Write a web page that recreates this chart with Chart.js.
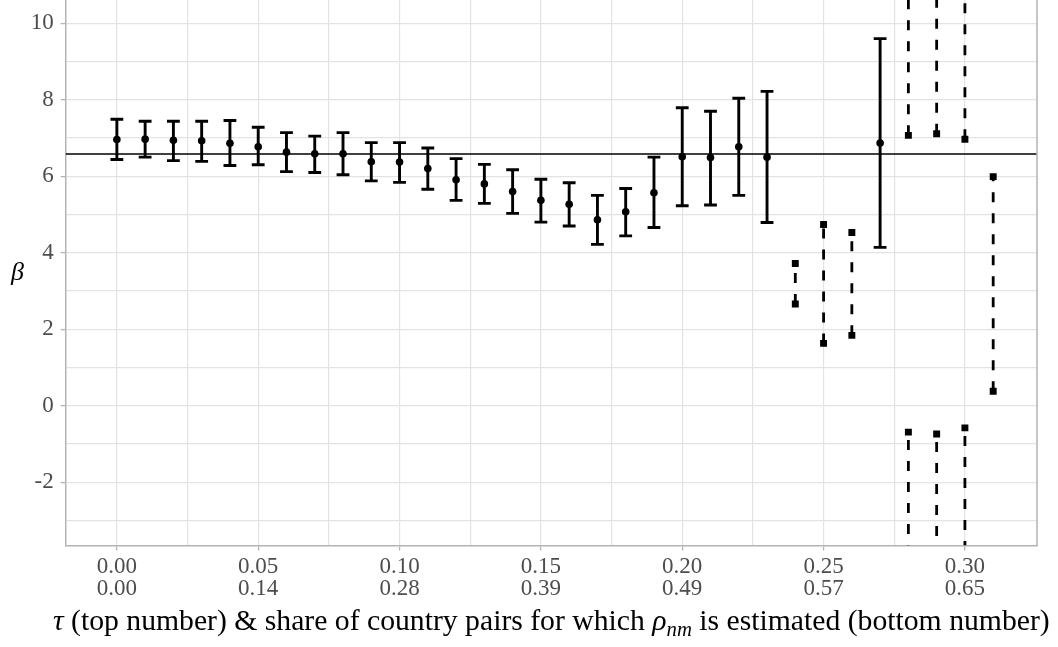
<!DOCTYPE html>
<html><head><meta charset="utf-8">
<script src="https://cdn.jsdelivr.net/npm/chart.js@4.4.1/dist/chart.umd.min.js"></script>
<style>html,body{margin:0;padding:0;background:#fff}canvas{display:block}</style>
</head><body>
<canvas id="c" width="1058" height="647"></canvas>
<script>
// ---- data ----
// solid error bars (estimate with confidence interval)
const solidTau = [0.00,0.01,0.02,0.03,0.04,0.05,0.06,0.07,0.08,0.09,0.10,0.11,0.12,0.13,0.14,0.15,0.16,0.17,0.18,0.19,0.20,0.21,0.22,0.23,0.27];
const solidEst = [6.96,6.97,6.94,6.93,6.86,6.77,6.63,6.59,6.59,6.38,6.37,6.20,5.91,5.80,5.60,5.37,5.27,4.86,5.07,5.57,6.51,6.49,6.77,6.50,6.87];
const solidLo  = [6.44,6.50,6.41,6.39,6.28,6.30,6.12,6.10,6.04,5.88,5.84,5.66,5.37,5.29,5.03,4.80,4.70,4.22,4.44,4.66,5.23,5.25,5.50,4.79,4.14];
const solidHi  = [7.49,7.44,7.44,7.44,7.46,7.28,7.14,7.05,7.14,6.88,6.88,6.74,6.46,6.31,6.17,5.92,5.83,5.50,5.68,6.50,7.79,7.70,8.04,8.22,9.60];
// dashed bounded intervals (no point estimate)
const dashTau = [0.24,0.25,0.26,0.31];
const dashLo  = [2.66,1.63,1.84,0.38];
const dashHi  = [3.72,4.74,4.53,5.99];
// dashed unbounded sets: (-inf, lower] U [upper, +inf)
const rayTau       = [0.28,0.29,0.30];
const rayUpperFrom = [7.07,7.11,6.97];
const rayLowerFrom = [-0.69,-0.74,-0.58];
// horizontal reference line
const refLine = 6.58;
// ticks
const xTickValues = [0,0.05,0.10,0.15,0.20,0.25,0.30];
const xTickTop    = ['0.00','0.05','0.10','0.15','0.20','0.25','0.30'];
const xTickBottom = ['0.00','0.14','0.28','0.39','0.49','0.57','0.65'];
const xMinorValues = [0.025,0.075,0.125,0.175,0.225,0.275];
const yTickValues = [-2,0,2,4,6,8,10];
const yTickLabels = ['-2','0','2','4','6','8','10'];
const yMinorValues = [-3,-1,1,3,5,7,9];
// axis limits
const X_MIN = -0.0181, X_MAX = 0.3255, Y_MIN = -3.655, Y_MAX = 10.609;

// ---- build library datasets ----
const FAM = "'Liberation Serif', 'DejaVu Serif', serif";
const gap = t => ({x: t, y: null});
const whiskers = solidTau.flatMap((t,i) => [{x:t,y:solidLo[i]},{x:t,y:solidHi[i]},gap(t)]);
const caps = solidTau.flatMap((t,i) => [{x:t,y:solidLo[i]},{x:t,y:solidHi[i]}]);
const dots = solidTau.map((t,i) => ({x:t,y:solidEst[i]}));
const dashSegs = dashTau.flatMap((t,i) => [{x:t,y:dashLo[i]},{x:t,y:dashHi[i]},gap(t)]);
const raysUp = rayTau.flatMap((t,i) => [{x:t,y:rayUpperFrom[i]},{x:t,y:Y_MAX},gap(t)]);
const raysDown = rayTau.flatMap((t,i) => [{x:t,y:rayLowerFrom[i]},{x:t,y:Y_MIN},gap(t)]);
const squares = [
  ...dashTau.flatMap((t,i) => [{x:t,y:dashLo[i]},{x:t,y:dashHi[i]}]),
  ...rayTau.flatMap((t,i) => [{x:t,y:rayUpperFrom[i]},{x:t,y:rayLowerFrom[i]}])
];
const refData = [{x:X_MIN,y:refLine},{x:X_MAX,y:refLine}];

const lineDs = (data, extra) => Object.assign({
  data, showLine: true, borderColor: '#000', borderWidth: 2.8,
  pointRadius: 0, pointHoverRadius: 0, fill: false, borderCapStyle: 'butt'
}, extra || {});

const near = (arr, v) => arr.findIndex(m => Math.abs(m - v) < 1e-9);

const decor = {
  id: 'decor',
  afterDatasetsDraw(chart) {
    const {ctx, chartArea: a} = chart;
    ctx.save();
    ctx.strokeStyle = '#b3b3b3';
    ctx.lineWidth = 1.5;
    ctx.beginPath();
    ctx.moveTo(a.right, a.top);
    ctx.lineTo(a.right, a.bottom + 0.75);
    ctx.stroke();
    ctx.restore();
  },
  afterDraw(chart) {
    const {ctx, chartArea: a} = chart;
    ctx.save();
    ctx.fillStyle = '#000';
    // y title
    ctx.font = 'italic 26px ' + FAM;
    ctx.textAlign = 'center';
    ctx.textBaseline = 'middle';
    ctx.fillText('β', 17.5, (a.top + a.bottom) / 2);
    // x title (rich text)
    const segs = [
      {t:'τ', it:true},
      {t:' (top number) & share of country pairs for which ', it:false},
      {t:'ρ', it:true},
      {t:'nm', it:true, sub:true},
      {t:' is estimated (bottom number)', it:false}
    ];
    const fontFor = (s, size) => (s.it ? 'italic ' : '') + (s.sub ? size * 0.7 : size) + 'px ' + FAM;
    const base = 27;
    let w = 0;
    segs.forEach(s => { ctx.font = fontFor(s, base); w += ctx.measureText(s.t).width; });
    const size = base * 997 / w;
    let total = 0;
    segs.forEach(s => { ctx.font = fontFor(s, size); s.w = ctx.measureText(s.t).width; total += s.w; });
    let x = (a.left + a.right) / 2 - total / 2;
    const baseline = 630;
    ctx.textAlign = 'left';
    ctx.textBaseline = 'alphabetic';
    segs.forEach(s => {
      ctx.font = fontFor(s, size);
      ctx.fillText(s.t, x, baseline + (s.sub ? size * 0.2 : 0));
      x += s.w;
    });
    ctx.restore();
  }
};

new Chart(document.getElementById('c'), {
  type: 'scatter',
  data: {
    datasets: [
      {data: dots, pointStyle: 'circle', pointRadius: 3.8, pointHoverRadius: 3.8, backgroundColor: '#000', borderWidth: 0},
      {data: caps, pointStyle: 'line', pointRadius: 6.4, pointHoverRadius: 6.4, borderColor: '#000', borderWidth: 2.9},
      lineDs(whiskers, {borderWidth: 2.9}),
      {data: squares, pointStyle: 'rect', pointRadius: 4.9, pointHoverRadius: 4.9, backgroundColor: '#000', borderWidth: 0},
      lineDs(dashSegs, {borderDash: [10, 11], borderDashOffset: 0}),
      lineDs(raysUp, {borderDash: [10, 11], borderDashOffset: 0}),
      lineDs(raysDown, {borderDash: [10, 11], borderDashOffset: 13}),
      lineDs(refData, {borderWidth: 1.5})
    ]
  },
  options: {
    responsive: false,
    animation: false,
    devicePixelRatio: 1,
    events: [],
    layout: {autoPadding: false, padding: {top: 0, right: 21, bottom: 0, left: 0}},
    plugins: {legend: {display: false}, tooltip: {enabled: false}},
    scales: {
      x: {
        type: 'linear', min: X_MIN, max: X_MAX,
        afterBuildTicks: s => { s.ticks = [...xTickValues, ...xMinorValues].sort((p,q) => p - q).map(v => ({value: v})); },
        afterFit: s => { s.height = 101.5; s.paddingLeft = 0; s.paddingRight = 0; },
        ticks: {
          autoSkip: false, maxRotation: 0, minRotation: 0, padding: 5.5, color: '#4d4d4d',
          font: {family: FAM, size: 23, lineHeight: 0.957},
          callback: v => { const i = near(xTickValues, v); return i < 0 ? '' : [xTickTop[i], xTickBottom[i]]; }
        },
        grid: {
          color: '#e3e3e3', lineWidth: 1.2, tickLength: 5, tickWidth: 1.3,
          tickColor: c => (c.tick && near(xTickValues, c.tick.value) >= 0) ? '#b3b3b3' : 'rgba(0,0,0,0)'
        },
        border: {display: true, color: '#b3b3b3', width: 1.5}
      },
      y: {
        type: 'linear', min: Y_MIN, max: Y_MAX,
        afterBuildTicks: s => { s.ticks = [...yTickValues, ...yMinorValues].sort((p,q) => p - q).map(v => ({value: v})); },
        afterFit: s => { s.width = 65.7; s.paddingTop = 0; s.paddingBottom = 0; },
        ticks: {
          autoSkip: false, padding: 7, color: '#4d4d4d',
          font: {family: FAM, size: 23},
          callback: v => { const i = near(yTickValues, v); return i < 0 ? '' : yTickLabels[i]; }
        },
        grid: {
          color: '#e3e3e3', lineWidth: 1.2, tickLength: 5, tickWidth: 1.3,
          tickColor: c => (c.tick && near(yTickValues, c.tick.value) >= 0) ? '#b3b3b3' : 'rgba(0,0,0,0)'
        },
        border: {display: true, color: '#b3b3b3', width: 1.5}
      }
    }
  },
  plugins: [decor]
});
</script>
</body></html>
